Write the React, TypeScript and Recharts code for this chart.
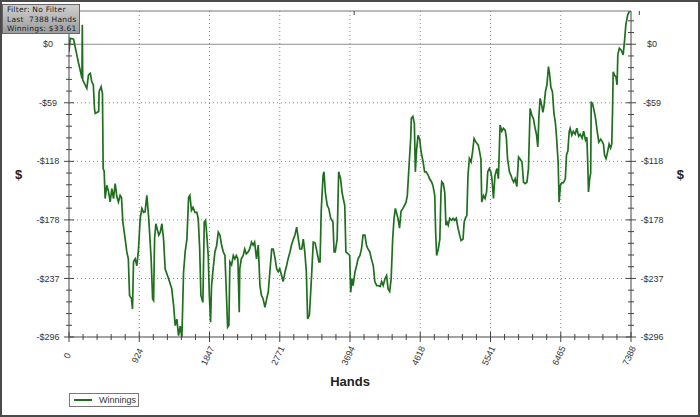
import { CartesianGrid, Line, LineChart, ReferenceLine, XAxis, YAxis } from "recharts";

// cumulative winnings ($), by hand number
const hands = [
  0, 15, 60, 103, 125, 155, 170, 175, 180, 234, 256, 280, 300, 320, 335, 345, 390, 396, 422, 440,
  449, 462, 475, 497, 520, 541, 563, 585, 607, 630, 650, 672, 690, 708, 738, 760, 780, 796, 820, 835,
  848, 870, 892, 914, 936, 958, 980, 1000, 1023, 1045, 1059, 1080, 1099, 1112, 1125, 1142, 1180, 1200, 1221, 1243,
  1264, 1309, 1350, 1375, 1396, 1418, 1440, 1462, 1484, 1506, 1527, 1550, 1572, 1589, 1610, 1630, 1655, 1680, 1699, 1718,
  1734, 1760, 1778, 1795, 1810, 1830, 1845, 1861, 1874, 1895, 1918, 1940, 1962, 1984, 2006, 2028, 2050, 2070, 2085, 2102,
  2115, 2137, 2160, 2180, 2200, 2220, 2238, 2245, 2265, 2290, 2310, 2330, 2355, 2375, 2400, 2420, 2440, 2465, 2488, 2510,
  2530, 2550, 2576, 2600, 2620, 2640, 2665, 2685, 2710, 2730, 2750, 2770, 2795, 2815, 2840, 2860, 2880, 2905, 2925, 2950,
  2970, 2993, 3015, 3035, 3060, 3080, 3100, 3120, 3137, 3160, 3185, 3211, 3235, 3260, 3285, 3300, 3316, 3340, 3352, 3370,
  3395, 3415, 3440, 3470, 3485, 3500, 3525, 3545, 3570, 3590, 3605, 3625, 3640, 3670, 3690, 3703, 3720, 3735, 3760, 3780,
  3800, 3825, 3845, 3865, 3890, 3910, 3930, 3955, 3975, 4000, 4020, 4045, 4065, 4090, 4110, 4130, 4155, 4175, 4195, 4216,
  4235, 4255, 4273, 4290, 4325, 4345, 4365, 4390, 4410, 4430, 4448, 4470, 4492, 4500, 4520, 4540, 4553, 4570, 4589, 4610,
  4630, 4655, 4675, 4695, 4720, 4740, 4765, 4785, 4808, 4820, 4833, 4855, 4875, 4890, 4900, 4920, 4940, 4955, 4970, 4985,
  5005, 5030, 5050, 5070, 5090, 5115, 5135, 5155, 5180, 5195, 5210, 5230, 5245, 5263, 5285, 5305, 5325, 5350, 5380, 5400,
  5415, 5426, 5450, 5470, 5490, 5505, 5526, 5545, 5560, 5580, 5600, 5625, 5645, 5667, 5690, 5710, 5735, 5750, 5765, 5790,
  5810, 5825, 5845, 5865, 5887, 5910, 5930, 5955, 5975, 5995, 6020, 6040, 6062, 6085, 6105, 6125, 6145, 6163, 6178, 6193,
  6215, 6230, 6245, 6263, 6283, 6303, 6318, 6335, 6355, 6375, 6395, 6410, 6430, 6443, 6460, 6480, 6500, 6525, 6540, 6558,
  6575, 6588, 6610, 6630, 6655, 6675, 6700, 6720, 6745, 6765, 6790, 6808, 6820, 6829, 6845, 6858, 6865, 6885, 6905, 6920,
  6945, 6965, 6990, 7005, 7026, 7040, 7060, 7080, 7100, 7120, 7135, 7145, 7154, 7170, 7190, 7205, 7215, 7235, 7260, 7285,
  7302, 7320, 7345, 7364, 7388,
];
const winnings = [
  -7.5, 6, 5, -10.8, -19, -29, -34.5, 19.6, -36, -44.6, -31, -29.5, -38, -41, -65, -70, -68, -48, -43, -50,
  -125.7, -128, -156, -142.6, -149, -159.5, -146, -156, -141, -154.5, -159.5, -152.8, -155, -179.8, -196.7, -210, -217, -254, -257, -267.6,
  -220, -217, -224, -206.8, -176, -166, -170, -169.5, -152.8, -173, -190, -217, -257.5, -259, -196.7, -181.5, -193, -190, -181.5, -197,
  -227, -237, -247, -264, -284.5, -278, -294.7, -285, -296, -230.5, -210, -197, -155, -152.8, -168, -165, -170, -170, -176.4, -207,
  -254, -261, -179.8, -178, -191.5, -213.6, -254, -281, -244, -227, -210, -204, -190, -193, -203, -210, -213.6, -254, -286, -284,
  -220, -223, -213.6, -217, -213.6, -217, -271, -227, -217, -213.6, -207, -212, -210, -207, -200, -203, -200, -217, -203, -244,
  -254, -257, -266, -257, -250, -230.5, -207, -207, -217, -227, -230, -227, -233.8, -240, -230, -224, -217, -210, -203, -197,
  -193, -184.9, -197, -207, -207, -197, -210, -230, -277.7, -274, -240, -200, -201, -210, -220, -220, -168, -132.5, -129, -150,
  -163, -166, -176, -179.8, -210, -210, -197, -129, -136, -150, -156, -163, -210, -212, -213.6, -250.8, -237, -244, -230, -224,
  -217, -213.6, -207, -193, -193, -203, -207, -210, -217, -224, -240, -244, -244, -245, -240, -244, -237, -234, -247.4, -250,
  -237, -197, -176, -166, -176, -186, -169, -166, -163, -160, -152.8, -123, -95.3, -75, -73, -80, -129, -106, -92, -96,
  -109.5, -119, -129, -129, -132, -136, -139, -143, -153, -190, -213.6, -207, -197, -150, -139, -141, -150, -183, -180, -183,
  -176, -178, -176, -178, -176, -186.3, -193, -198.5, -197, -179.8, -176, -173, -132.5, -115.6, -119, -109, -95.3, -99, -102, -109.5,
  -116, -159.6, -153, -156, -149, -129, -125.7, -129, -136, -156, -132.5, -125.7, -136, -81.8, -88, -85, -87, -95, -116, -129,
  -132.5, -136, -139.5, -136, -144, -114, -116, -119, -139.5, -141, -139.5, -125.7, -65, -72, -75, -84, -91, -103.8, -72, -54.7,
  -62, -69, -62, -48, -41, -22.7, -30, -43.5, -48, -70, -80, -95, -119, -159.6, -142.6, -140, -140, -136, -112, -108,
  -88.6, -85, -92, -88, -91, -85, -93, -91, -95, -88, -97, -94, -122, -149.4, -136, -130, -58, -61, -68, -74,
  -88.6, -99, -96, -97.7, -101, -112, -115.6, -109, -101, -105, -101, -69, -27.8, -31, -33, -41, -10.8, -4, -6, -10.8,
  2.6, 19.6, 29.7, 33, 33.61,
];

const xTicks = [0, 923.5, 1847, 2770.5, 3694, 4617.5, 5541, 6464.5, 7388];
const xTickLabels = ["0", "924", "1847", "2771", "3694", "4618", "5541", "6465", "7388"];
const yTicks = [0, -59.2, -118.4, -177.6, -236.8, -296];
const yTickLabels = ["$0", "-$59", "-$118", "-$178", "-$237", "-$296"];

const data = hands.map((h, i) => ({ hand: h, won: winnings[i] }));

const GREEN = "#1f6f1f";
const AXIS = "#444";

// 5 minor steps between every pair of major ticks
function withMinor(major: number[]) {
  const out: number[] = [];
  for (let i = 0; i < major.length - 1; i++) {
    for (let k = 0; k < 5; k++) out.push(major[i] + ((major[i + 1] - major[i]) * k) / 5);
  }
  out.push(major[major.length - 1]);
  return out;
}
const xAll = withMinor(xTicks);
const yStep = (yTicks[0] - yTicks[1]) / 5;
const yAll = [...withMinor(yTicks), yStep, yStep * 2];

const findIdx = (arr: number[], v: number) => arr.findIndex((t) => Math.abs(t - v) < 0.01);

function BottomTick({ x, y, payload }: any) {
  const i = findIdx(xTicks, payload.value);
  const len = i >= 0 ? 5 : 3;
  return (
    <g>
      <line x1={x} x2={x} y1={y - len} y2={y + len} stroke={AXIS} />
      {i >= 0 && (
        <text
          transform={`translate(${x + 1},${y + 20}) rotate(-65)`}
          textAnchor="middle"
          fontSize={9}
          fill="#333"
        >
          {xTickLabels[i]}
        </text>
      )}
    </g>
  );
}

function TopTick({ x, y, payload }: any) {
  const len = findIdx(xTicks, payload.value) >= 0 ? 5 : 4;
  return <line x1={x} x2={x} y1={y} y2={y + len} stroke={AXIS} />;
}

function SideTick({ x, y, payload, side }: any) {
  const i = findIdx(yTicks, payload.value);
  const len = i >= 0 ? 5 : 3;
  const lx = side === "left" ? x - 21 : x + 21;
  return (
    <g>
      <line x1={x - len} x2={x + len} y1={y} y2={y} stroke={AXIS} />
      {i >= 0 && (
        <text x={lx} y={y} dy="0.35em" textAnchor="middle" fontSize={9} fill="#333">
          {yTickLabels[i]}
        </text>
      )}
    </g>
  );
}

export default function App() {
  return (
    <div
      style={{
        position: "absolute",
        left: 0,
        top: 0,
        width: 700,
        height: 417,
        background: "#fff",
        fontFamily: "'Liberation Sans', Arial, sans-serif",
      }}
    >
      <LineChart width={700} height={417} data={data} margin={{ top: 0, right: 0, bottom: 0, left: 0 }}>
        <CartesianGrid
          horizontalValues={yTicks.slice(1, -1)}
          verticalValues={xTicks.slice(1, -1)}
          stroke="#8a8a8a"
          strokeDasharray="1 3"
        />
        <XAxis
          dataKey="hand"
          type="number"
          domain={[0, 7388]}
          allowDataOverflow
          ticks={xAll}
          interval={0}
          tick={<BottomTick />}
          tickLine={false}
          tickSize={0}
          tickMargin={0}
          height={80}
          axisLine={{ stroke: AXIS }}
          label={{ value: "Hands", position: "insideBottom", offset: 31, fontSize: 13, fontWeight: "bold", fill: "#222" }}
        />
        <XAxis
          xAxisId="top"
          orientation="top"
          type="number"
          domain={[0, 7388]}
          allowDataOverflow
          ticks={xAll}
          interval={0}
          tick={<TopTick />}
          tickLine={false}
          tickSize={0}
          tickMargin={0}
          height={11}
          axisLine={{ stroke: "#777" }}
        />
        <YAxis
          type="number"
          domain={[-296, 33.61]}
          allowDataOverflow
          ticks={yAll}
          interval={0}
          tick={<SideTick side="left" />}
          tickLine={false}
          tickSize={0}
          tickMargin={0}
          width={69}
          axisLine={{ stroke: AXIS }}
          label={{ value: "$", position: "insideLeft", offset: 15, fontSize: 13, fontWeight: "bold", fill: "#222" }}
        />
        <YAxis
          yAxisId="right"
          orientation="right"
          type="number"
          domain={[-296, 33.61]}
          allowDataOverflow
          ticks={yAll}
          interval={0}
          tick={<SideTick side="right" />}
          tickLine={false}
          tickSize={0}
          tickMargin={0}
          width={69}
          axisLine={{ stroke: AXIS }}
          label={{ value: "$", position: "insideRight", offset: 16, fontSize: 13, fontWeight: "bold", fill: "#222" }}
        />
        <ReferenceLine y={0} stroke="#8c8c8c" strokeWidth={1.2} />
        <Line
          type="linear"
          dataKey="won"
          stroke={GREEN}
          strokeWidth={1.7}
          dot={false}
          isAnimationActive={false}
        />
      </LineChart>

      <div
        style={{
          position: "absolute",
          left: 2,
          top: 4,
          width: 78,
          height: 30,
          boxSizing: "border-box",
          border: "1px solid #666",
          background: "linear-gradient(#cfcfcf, #9c9c9c)",
          fontFamily: "'DejaVu Sans', Verdana, sans-serif",
          fontSize: 7.5,
          lineHeight: "9.5px",
          letterSpacing: 0.25,
          color: "#222",
          padding: "0 0 0 4px",
          whiteSpace: "pre",
        }}
      >
        {"Filter: No Filter\nLast  7388 Hands\nWinnings: $33.61"}
      </div>

      <div
        style={{
          position: "absolute",
          left: 69,
          top: 393,
          width: 70,
          height: 14,
          boxSizing: "border-box",
          border: "1px solid #777",
          fontSize: 9,
          color: "#333",
        }}
      >
        <div style={{ position: "absolute", left: 4, top: 5, width: 18, height: 2, background: GREEN }} />
        <div style={{ position: "absolute", left: 29, top: 1, lineHeight: "11px" }}>Winnings</div>
      </div>

      <div
        style={{
          position: "absolute",
          left: 0,
          top: 0,
          width: 700,
          height: 417,
          boxSizing: "border-box",
          border: "2px solid #4a4a4a",
          pointerEvents: "none",
        }}
      />
    </div>
  );
}
